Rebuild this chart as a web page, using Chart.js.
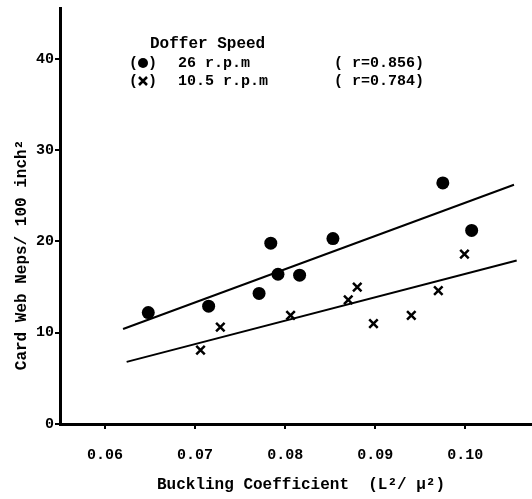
<!DOCTYPE html>
<html><head><meta charset="utf-8">
<script src="https://cdn.jsdelivr.net/npm/chart.js@4"></script>
<style>html,body{margin:0;padding:0;background:#fff;overflow:hidden;}#wrap{width:532px;height:499px;position:relative;}canvas{display:block;}</style>
</head><body><div id="wrap"><canvas id="c" width="532" height="499"></canvas></div>
<script>
// Data
const fastX = [0.0648, 0.0715, 0.0771, 0.0784, 0.0792, 0.0816, 0.0853, 0.0975, 0.1007];
const fastY = [12.2, 12.9, 14.3, 19.8, 16.4, 16.3, 20.3, 26.4, 21.2];
const slowX = [0.0706, 0.0728, 0.0806, 0.0870, 0.0880, 0.0898, 0.0940, 0.0970, 0.0999];
const slowY = [8.1, 10.6, 11.9, 13.6, 15.0, 11.0, 11.9, 14.6, 18.6];
const fitFastX = [0.0620, 0.1054];
const fitFastY = [10.4, 26.2];
const fitSlowX = [0.0624, 0.1057];
const fitSlowY = [6.8, 17.9];
const xTicks = [0.06, 0.07, 0.08, 0.09, 0.10];
const yTicks = [0, 10, 20, 30, 40];
const legendTitle = 'Doffer Speed';
const legendRows = ['26 r.p.m', '10.5 r.p.m'];
const legendR = ['( r=0.856)', '( r=0.784)'];
const xTitle = 'Buckling Coefficient  (L\u00B2/ \u03BC\u00B2)';
const yTitle = 'Card Web Neps/ 100 inch\u00B2';

const pts = (xs, ys) => xs.map((x, i) => ({x: x, y: ys[i]}));
const FONT = '"Liberation Mono", "DejaVu Sans Mono", monospace';

const stretch = {
  id: 'stretch',
  afterLayout(chart) {
    const x = chart.scales.x;
    const R = chart.width;
    x.right = R;
    x.width = R - x.left;
    x.configure();
    chart.chartArea.right = R;
    chart.chartArea.width = R - chart.chartArea.left;
  }
};

const overlay = {
  id: 'overlay',
  afterDraw(chart) {
    const ctx = chart.ctx;
    ctx.save();
    ctx.fillStyle = '#000';
    ctx.strokeStyle = '#000';
    ctx.font = 'bold 16px ' + FONT;
    ctx.textBaseline = 'middle';
    ctx.textAlign = 'left';
    ctx.fillText(legendTitle, 150, 44);
    ctx.font = 'bold 15px ' + FONT;
    ctx.fillText('(', 129, 63);
    ctx.fillText(')', 148, 63);
    ctx.fillText('(', 129, 81);
    ctx.fillText(')', 148, 81);
    ctx.fillText(legendRows[0], 178, 63);
    ctx.fillText(legendRows[1], 178, 81);
    ctx.fillText(legendR[0], 334, 63);
    ctx.fillText(legendR[1], 334, 81);
    // legend markers
    ctx.beginPath(); ctx.arc(143, 63, 5, 0, Math.PI * 2); ctx.fill();
    ctx.lineWidth = 2.5;
    ctx.beginPath(); ctx.moveTo(139, 77); ctx.lineTo(147, 85); ctx.moveTo(147, 77); ctx.lineTo(139, 85); ctx.stroke();
    // axis titles
    ctx.font = 'bold 16px ' + FONT;
    ctx.textAlign = 'center';
    ctx.fillText(xTitle, 301, 485);
    ctx.translate(22, 255);
    ctx.rotate(-Math.PI / 2);
    ctx.fillText(yTitle, 0, 0);
    ctx.restore();
  }
};

new Chart(document.getElementById('c'), {
  type: 'scatter',
  data: {
    datasets: [
      {label: '26 r.p.m', data: pts(fastX, fastY), pointStyle: 'circle', pointRadius: 6.5,
       backgroundColor: '#000', borderColor: '#000', borderWidth: 0},
      {label: '10.5 r.p.m', data: pts(slowX, slowY), pointStyle: 'crossRot', pointRadius: 6,
       backgroundColor: '#000', borderColor: '#000', borderWidth: 2.5},
      {type: 'line', label: 'fit 26', data: pts(fitFastX, fitFastY), borderColor: '#000', borderWidth: 2,
       pointRadius: 0, fill: false, tension: 0},
      {type: 'line', label: 'fit 10.5', data: pts(fitSlowX, fitSlowY), borderColor: '#000', borderWidth: 2,
       pointRadius: 0, fill: false, tension: 0}
    ]
  },
  options: {
    responsive: false,
    animation: false,
    devicePixelRatio: 1,
    layout: {padding: {top: 7, right: 0, left: 0, bottom: 0}},
    plugins: {legend: {display: false}, tooltip: {enabled: false}},
    scales: {
      x: {
        type: 'linear', min: 0.055, max: 0.1074,
        afterBuildTicks: s => { s.ticks = xTicks.map(v => ({value: v})); },
        afterFit: s => { s.height = 75; s.paddingLeft = 0; s.paddingRight = 0; },
        border: {display: true, color: '#000', width: 3},
        grid: {display: true, drawOnChartArea: false, drawTicks: true, tickLength: 5, color: '#000', lineWidth: 2},
        ticks: {color: '#000', font: {family: FONT, size: 15, weight: 'bold'}, padding: 17,
                maxRotation: 0, autoSkip: false, callback: v => v.toFixed(2)}
      },
      y: {
        type: 'linear', min: 0, max: 45.5,
        afterBuildTicks: s => { s.ticks = yTicks.map(v => ({value: v})); },
        afterFit: s => { s.width = 60; s.paddingTop = 0; s.paddingBottom = 0; },
        border: {display: true, color: '#000', width: 3},
        grid: {display: true, drawOnChartArea: false, drawTicks: true, tickLength: 5, color: '#000', lineWidth: 2},
        ticks: {color: '#000', font: {family: FONT, size: 15, weight: 'bold'}, padding: 1,
                autoSkip: false, callback: v => String(v)}
      }
    }
  },
  plugins: [stretch, overlay]
});
</script></body></html>
